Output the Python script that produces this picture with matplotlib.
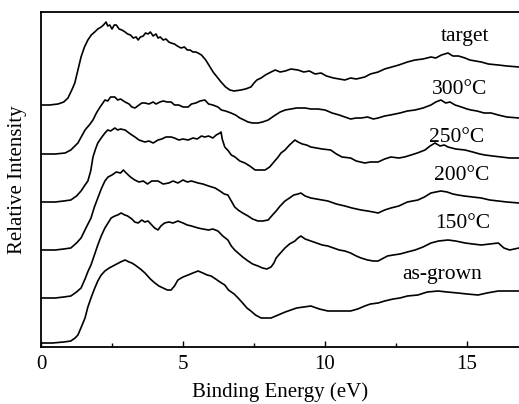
import matplotlib
matplotlib.use("Agg")
import matplotlib.pyplot as plt
from matplotlib.ticker import MultipleLocator
import numpy as np

plt.rcParams['font.family'] = ['Liberation Serif', 'DejaVu Serif']

# valence band spectra (arbitrary units, stacked)
e_target = [0.0, 0.3, 0.6, 0.8, 0.95, 1.1, 1.19, 1.3, 1.41, 1.53, 1.65, 1.77, 1.89, 2.0, 2.12, 2.2, 2.29, 2.35,
            2.42, 2.5, 2.58, 2.65, 2.75, 2.85, 2.96, 3.05, 3.15, 3.25, 3.35, 3.42, 3.5, 3.6, 3.68, 3.77, 3.85,
            3.95, 4.05, 4.12, 4.2, 4.3, 4.4, 4.5, 4.58, 4.7, 4.8, 4.93, 5.05, 5.15, 5.25, 5.35, 5.45, 5.53, 5.65,
            5.8, 5.93, 6.06, 6.2, 6.34, 6.5, 6.65, 6.8, 7.04, 7.2, 7.39, 7.5, 7.6, 7.75, 7.9, 8.1, 8.25, 8.42,
            8.6, 8.8, 9.05, 9.25, 9.45, 9.65, 9.86, 10.05, 10.3, 10.5, 10.7, 10.9, 11.1, 11.4, 11.6, 11.87, 12.1,
            12.35, 12.6, 12.9, 13.17, 13.45, 13.73, 13.9, 14.1, 14.33, 14.5, 14.7, 14.93, 15.1, 15.3, 15.5, 15.75,
            16.1, 16.4, 16.83]
i_target = [242, 242, 243, 245, 249, 258, 264, 277, 290, 300, 307, 312, 315, 318, 320, 322, 325, 321,
            322, 318, 322, 322, 318, 317, 315, 313, 312, 309, 310, 307, 310, 311, 314, 313, 315,
            311, 313, 309, 310, 307, 308, 305, 304, 303, 301, 299, 300, 297, 297, 295, 295, 294, 292,
            287, 281, 275, 270, 265, 260, 257, 256, 257, 258, 260, 264, 267, 269, 272, 275, 277, 275,
            276, 278, 277, 275, 276, 273, 274, 271, 269, 268, 267, 269, 268, 270, 273, 275, 278,
            280, 282, 285, 287, 288, 290, 289, 292, 294, 291, 291, 289, 287, 286, 285, 283,
            282, 281, 280]

e_300 = [0, 0.5, 0.85, 1.05, 1.3, 1.55, 1.7, 1.83, 1.95, 2.08, 2.18, 2.25, 2.35, 2.45, 2.6, 2.7, 2.8, 2.96,
         3.1, 3.2, 3.31, 3.45, 3.55, 3.66, 3.8, 3.95, 4.05, 4.19, 4.3, 4.45, 4.58, 4.7, 4.85, 5.0, 5.18, 5.3,
         5.45, 5.6, 5.77, 5.9, 6.05, 6.23, 6.35, 6.5, 6.69, 6.85, 7.0, 7.15, 7.29, 7.45, 7.64, 7.8, 8.0, 8.2,
         8.42, 8.6, 8.8, 9.0, 9.3, 9.5, 9.75, 10.0, 10.25, 10.5, 10.7, 10.9, 11.1, 11.27, 11.5, 11.7, 11.87,
         12.1, 12.3, 12.64, 12.9, 13.17, 13.45, 13.73, 13.9, 14.08, 14.25, 14.4, 14.58, 14.8, 15.0, 15.14,
         15.35, 15.6, 15.85, 16.1, 16.4, 16.83]
i_300 = [193, 193, 194, 197, 204, 217, 222, 227, 234, 240, 244, 247, 246, 250, 250, 247, 248, 245,
         243, 240, 239, 242, 244, 244, 243, 245, 243, 245, 246, 245, 245, 242, 242, 240, 240, 243,
         244, 246, 247, 243, 242, 240, 237, 236, 234, 232, 229, 227, 225, 224, 224, 225, 227, 231,
         235, 237, 238, 239, 239, 238, 238, 237, 234, 232, 230, 228, 229, 229, 230, 228, 229,
         231, 232, 234, 236, 237, 239, 242, 245, 247, 244, 245, 242, 240, 238, 237,
         236, 234, 234, 232, 230, 229]

e_250 = [0, 0.5, 0.8, 1.05, 1.25, 1.41, 1.55, 1.65, 1.75, 1.83, 1.92, 2.0, 2.12, 2.25, 2.35, 2.45, 2.6, 2.7,
         2.8, 2.96, 3.1, 3.2, 3.31, 3.45, 3.55, 3.66, 3.8, 3.95, 4.12, 4.25, 4.4, 4.58, 4.7, 4.85, 5.0, 5.18,
         5.35, 5.5, 5.65, 5.77, 5.9, 6.05, 6.17, 6.3, 6.34, 6.38, 6.47, 6.6, 6.7, 6.83, 7.0, 7.18, 7.35, 7.54,
         7.7, 7.89, 8.05, 8.2, 8.35, 8.45, 8.59, 8.75, 8.94, 9.05, 9.2, 9.35, 9.5, 9.7, 9.9, 10.2, 10.4, 10.6,
         10.9, 11.1, 11.4, 11.6, 11.87, 12.1, 12.32, 12.6, 12.8, 13.03, 13.25, 13.52, 13.7, 13.87, 14.05, 14.2,
         14.33, 14.6, 14.93, 15.2, 15.45, 15.63, 15.9, 16.2, 16.5, 16.83]
i_250 = [145, 145, 146, 147, 151, 156, 162, 166, 176, 190, 198, 204, 209, 214, 217, 216, 219, 217,
         218, 217, 214, 212, 210, 207, 206, 205, 206, 204, 207, 208, 210, 210, 209, 207, 208, 207,
         209, 208, 211, 210, 211, 209, 212, 214, 215, 208, 200, 196, 192, 190, 186, 184, 181, 177,
         177, 177, 180, 185, 190, 194, 197, 202, 207, 205, 203, 202, 200, 199, 198, 197, 193, 190,
         189, 186, 184, 185, 185, 188, 190, 189, 190, 192, 194, 197, 201, 204, 201, 202,
         200, 198, 197, 195, 193, 192, 191, 190, 189, 189]

e_200 = [0, 0.5, 0.8, 1.05, 1.25, 1.41, 1.6, 1.76, 1.88, 2.0, 2.12, 2.25, 2.36, 2.5, 2.65, 2.8, 2.9, 3.0,
         3.15, 3.3, 3.45, 3.6, 3.75, 3.9, 4.12, 4.3, 4.5, 4.65, 4.82, 5.0, 5.15, 5.3, 5.53, 5.7, 5.9, 6.13,
         6.3, 6.45, 6.58, 6.7, 6.82, 6.94, 7.1, 7.29, 7.45, 7.64, 7.8, 8.0, 8.15, 8.28, 8.42, 8.59, 8.75, 8.9,
         9.05, 9.15, 9.3, 9.5, 9.7, 9.9, 10.1, 10.4, 10.7, 10.95, 11.27, 11.5, 11.7, 11.87, 12.1, 12.32, 12.6,
         12.9, 13.27, 13.5, 13.73, 13.9, 14.08, 14.3, 14.5, 14.68, 14.9, 15.2, 15.5, 15.8, 16.1, 16.4, 16.83]
i_200 = [97, 97, 98, 99, 104, 109, 120, 129, 140, 149, 158, 166, 170, 172, 175, 174, 177, 174,
         170, 167, 165, 166, 163, 166, 166, 163, 164, 166, 164, 167, 165, 166, 164, 163, 161, 159,
         156, 153, 152, 146, 140, 137, 134, 131, 128, 126, 126, 127, 132, 136, 141, 146, 149, 152,
         153, 154, 151, 149, 148, 147, 146, 143, 141, 139, 137, 136, 135, 134, 137, 139, 141,
         145, 147, 150, 154, 155, 156, 155, 153, 152, 151, 150, 149, 147, 146, 145, 144]

e_150 = [0, 0.5, 0.8, 1.05, 1.25, 1.41, 1.55, 1.66, 1.76, 1.88, 2.0, 2.12, 2.25, 2.36, 2.47, 2.6, 2.7, 2.82,
         2.95, 3.05, 3.2, 3.3, 3.42, 3.55, 3.65, 3.77, 3.9, 4.0, 4.12, 4.22, 4.35, 4.5, 4.65, 4.82, 5.0, 5.15,
         5.3, 5.53, 5.7, 5.9, 6.05, 6.23, 6.4, 6.58, 6.7, 6.82, 6.94, 7.1, 7.29, 7.45, 7.64, 7.8, 7.95, 8.1,
         8.2, 8.28, 8.4, 8.59, 8.75, 8.94, 9.05, 9.15, 9.3, 9.5, 9.7, 9.9, 10.1, 10.3, 10.5, 10.7, 10.9, 11.1,
         11.27, 11.5, 11.7, 11.87, 12.0, 12.2, 12.4, 12.64, 12.9, 13.17, 13.45, 13.73, 14.0, 14.33, 14.6,
         14.93, 15.2, 15.5, 15.8, 16.1, 16.3, 16.5, 16.83]
i_150 = [49, 49, 50, 51, 55, 59, 68, 76, 82, 92, 102, 111, 119, 124, 129, 131, 132, 134,
         132, 131, 128, 125, 124, 127, 125, 126, 122, 119, 117, 121, 124, 125, 124, 126, 124, 122,
         121, 119, 118, 117, 118, 116, 111, 107, 101, 97, 94, 90, 86, 83, 81, 79, 78, 80,
         84, 89, 93, 99, 103, 106, 109, 111, 108, 106, 104, 102, 101, 99, 97, 96, 94, 91,
         89, 87, 86, 86, 88, 91, 92, 93, 95, 97, 100, 104, 106, 107, 106,
         104, 103, 102, 103, 104, 99, 97, 99]

e_grown = [0, 0.4, 0.8, 1.05, 1.2, 1.3, 1.42, 1.55, 1.65, 1.76, 1.88, 2.0, 2.12, 2.25, 2.4, 2.6, 2.8, 2.96,
           3.1, 3.2, 3.31, 3.5, 3.66, 3.85, 4.01, 4.15, 4.3, 4.45, 4.58, 4.7, 4.82, 5.0, 5.18, 5.35, 5.53, 5.7,
           5.85, 5.99, 6.15, 6.3, 6.47, 6.6, 6.8, 6.94, 7.1, 7.25, 7.39, 7.55, 7.75, 7.95, 8.1, 8.35, 8.6, 8.8,
           9.0, 9.25, 9.5, 9.8, 10.1, 10.5, 10.9, 11.15, 11.4, 11.6, 11.87, 12.1, 12.4, 12.64, 12.9, 13.27,
           13.6, 13.98, 14.3, 14.68, 15.0, 15.39, 15.7, 16.1, 16.4, 16.83]
i_grown = [4, 4, 5, 6, 9, 12, 20, 29, 40, 49, 58, 66, 72, 76, 79, 82, 85, 87,
           85, 84, 82, 78, 74, 68, 64, 61, 59, 57, 57, 61, 67, 70, 72, 74, 76, 74,
           72, 71, 68, 65, 62, 57, 53, 49, 44, 39, 36, 32, 29, 29, 29, 32, 35, 37,
           39, 40, 41, 38, 36, 36, 36, 38, 41, 43, 44, 46, 48, 49, 51, 52,
           55, 56, 55, 54, 53, 52, 54, 56, 56, 56]

series = [(e_target, i_target), (e_300, i_300), (e_250, i_250),
          (e_200, i_200), (e_150, i_150), (e_grown, i_grown)]
labels = ['target', '300°C', '250°C', '200°C', '150°C', 'as-grown']
label_x = [14.93, 14.72, 14.65, 14.82, 14.86, 14.12]
label_y = [310, 258, 210, 172, 124, 72]

fig = plt.figure(figsize=(5.19, 4.04), dpi=100)
ax = fig.add_axes([41 / 519, 57 / 404, 1 - 41 / 519, 335 / 404])

for (e, inten) in series:
    ax.plot(e, inten, color='black', lw=1.2)

for txt, lx, ly in zip(labels, label_x, label_y):
    ax.text(lx, ly, txt, ha='center', va='center', fontsize=15.5)

ax.set_xlim(0, 16.83)
ax.set_ylim(0, 335)
ax.xaxis.set_major_locator(MultipleLocator(5))
ax.xaxis.set_minor_locator(MultipleLocator(2.5))
ax.tick_params(axis='x', which='major', direction='in', length=4, width=1, labelsize=15, pad=6)
ax.tick_params(axis='x', which='minor', direction='in', length=3, width=1)
ax.set_yticks([])
ax.spines['right'].set_visible(False)
for s in ['left', 'top', 'bottom']:
    ax.spines[s].set_linewidth(1.3)

ax.set_xlabel('Binding Energy (eV)', fontsize=15, labelpad=6)
ax.set_ylabel('Relative Intensity', fontsize=15, labelpad=10)

fig.savefig('out.png', dpi=100)
